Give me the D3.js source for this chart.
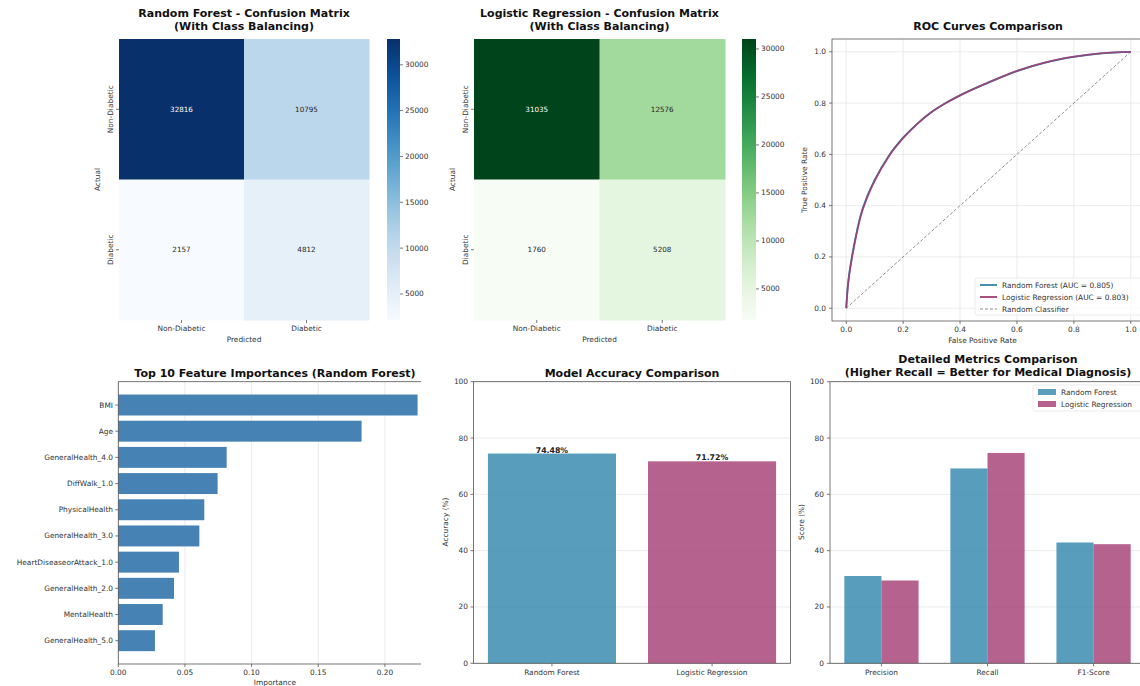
<!DOCTYPE html>
<html>
<head>
<meta charset="utf-8">
<script src="https://cdn.jsdelivr.net/npm/d3@7"></script>
<style>
  body { margin: 0; background: #fff; }
  svg { font-family: "DejaVu Sans", sans-serif; }
</style>
</head>
<body>
<script>
// canvas size
var w = 1140;
var h = 686;

// confusion matrices (rows = actual, cols = predicted)
var classLabels = ["Non-Diabetic", "Diabetic"];
var rfMatrix = [[32816, 10795], [2157, 4812]];
var lrMatrix = [[31035, 12576], [1760, 5208]];
var colorbarTicks = [5000, 10000, 15000, 20000, 25000, 30000];

// ROC curves
var rocFpr = [0, 0.005, 0.01, 0.02, 0.03, 0.05, 0.075, 0.1, 0.15, 0.2, 0.25, 0.3, 0.35, 0.4, 0.5, 0.6, 0.7, 0.8, 0.9, 1.0];
var rfTpr  = [0, 0.08, 0.13, 0.20, 0.26, 0.36, 0.44, 0.50, 0.595, 0.665, 0.72, 0.765, 0.80, 0.83, 0.88, 0.925, 0.958, 0.98, 0.994, 1.0];
var lrTpr  = [0, 0.075, 0.125, 0.195, 0.255, 0.355, 0.435, 0.497, 0.593, 0.663, 0.719, 0.765, 0.80, 0.83, 0.881, 0.926, 0.959, 0.981, 0.995, 1.0];
var rocLabels = ["Random Forest (AUC = 0.805)", "Logistic Regression (AUC = 0.803)", "Random Classifier"];
var rocTicks = [0, 0.2, 0.4, 0.6, 0.8, 1.0];

// feature importances
var featureNames = ["BMI", "Age", "GeneralHealth_4.0", "DiffWalk_1.0", "PhysicalHealth",
  "GeneralHealth_3.0", "HeartDiseaseorAttack_1.0", "GeneralHealth_2.0", "MentalHealth", "GeneralHealth_5.0"];
var featureImportance = [0.2245, 0.1825, 0.0813, 0.0745, 0.0645, 0.0608, 0.0455, 0.0418, 0.0333, 0.0275];
var importanceTicks = [0, 0.05, 0.10, 0.15, 0.20];

// accuracy
var modelNames = ["Random Forest", "Logistic Regression"];
var accuracy = [74.48, 71.72];

// detailed metrics
var metricNames = ["Precision", "Recall", "F1-Score"];
var rfMetrics = [31.0, 69.2, 42.9];
var lrMetrics = [29.4, 74.7, 42.3];
var percentTicks = [0, 20, 40, 60, 80, 100];

var modelColors = ["#2E86AB", "#A23B72"];
var textColor = "#333";
var spineColor = "#555";
var gridColor = "#e6e6e6";

var svg = d3.select("body").append("svg")
  .attr("width", w)
  .attr("height", h);

var defs = svg.append("defs");

// title helper
function title(x, y, lines) {
  var t = svg.append("text")
    .attr("x", x).attr("y", y)
    .attr("text-anchor", "middle")
    .attr("font-size", "11px")
    .attr("font-weight", "bold")
    .attr("fill", "#111");
  lines.forEach(function(l, i) {
    t.append("tspan").attr("x", x).attr("dy", i == 0 ? 0 : 13).text(l);
  });
}

function smallText(g, x, y, s, anchor, size) {
  return g.append("text")
    .attr("x", x).attr("y", y)
    .attr("text-anchor", anchor || "middle")
    .attr("font-size", (size || 7.4) + "px")
    .attr("fill", textColor)
    .text(s);
}

function frame(g, x0, x1, y0, y1) {
  g.append("rect")
    .attr("x", x0).attr("y", y0)
    .attr("width", x1 - x0).attr("height", y1 - y0)
    .attr("fill", "none")
    .attr("stroke", spineColor)
    .attr("stroke-width", 0.8);
}

// ---------- confusion matrix heatmap ----------
function heatmap(matrix, box, cb, interp, titleLines, id) {
  var g = svg.append("g");
  var flat = matrix[0].concat(matrix[1]);
  var color = d3.scaleSequential(interp).domain([d3.min(flat), d3.max(flat)]);
  var xs = d3.scaleBand().domain([0, 1]).range([box.x0, box.x1]);
  var ys = d3.scaleBand().domain([0, 1]).range([box.y0, box.y1]);

  var cells = [];
  matrix.forEach(function(row, r) {
    row.forEach(function(v, c) { cells.push({ r: r, c: c, v: v }); });
  });

  g.selectAll("rect.cell")
    .data(cells)
    .enter()
    .append("rect")
    .attr("x", function(d) { return xs(d.c); })
    .attr("y", function(d) { return ys(d.r); })
    .attr("width", xs.bandwidth() + 0.5)
    .attr("height", ys.bandwidth() + 0.5)
    .attr("fill", function(d) { return color(d.v); });

  g.selectAll("text.val")
    .data(cells)
    .enter()
    .append("text")
    .attr("x", function(d) { return xs(d.c) + xs.bandwidth() / 2; })
    .attr("y", function(d) { return ys(d.r) + ys.bandwidth() / 2 + 2.5; })
    .attr("text-anchor", "middle")
    .attr("font-size", "7.2px")
    .attr("fill", function(d) {
      var t = (d.v - d3.min(flat)) / (d3.max(flat) - d3.min(flat));
      return t > 0.6 ? "#fff" : "#262626";
    })
    .text(function(d) { return d.v; });

  // tick labels
  classLabels.forEach(function(lab, i) {
    var cx = xs(i) + xs.bandwidth() / 2;
    g.append("line").attr("x1", cx).attr("x2", cx).attr("y1", box.y1).attr("y2", box.y1 + 3)
      .attr("stroke", spineColor).attr("stroke-width", 0.8);
    smallText(g, cx, box.y1 + 11, lab);
    var cy = ys(i) + ys.bandwidth() / 2;
    g.append("line").attr("x1", box.x0 - 3).attr("x2", box.x0).attr("y1", cy).attr("y2", cy)
      .attr("stroke", spineColor).attr("stroke-width", 0.8);
    smallText(g, 0, 0, lab)
      .attr("transform", "translate(" + (box.x0 - 6) + "," + cy + ") rotate(-90)");
  });
  smallText(g, (box.x0 + box.x1) / 2, box.y1 + 22, "Predicted");
  smallText(g, 0, 0, "Actual")
    .attr("transform", "translate(" + (box.x0 - 19) + "," + (box.y0 + box.y1) / 2 + ") rotate(-90)");

  // colorbar
  var grad = defs.append("linearGradient").attr("id", id)
    .attr("x1", 0).attr("y1", 1).attr("x2", 0).attr("y2", 0);
  d3.range(0, 1.001, 0.05).forEach(function(t) {
    grad.append("stop").attr("offset", t).attr("stop-color", interp(t));
  });
  g.append("rect")
    .attr("x", cb.x0).attr("y", box.y0)
    .attr("width", cb.x1 - cb.x0).attr("height", box.y1 - box.y0)
    .attr("fill", "url(#" + id + ")");
  var cbScale = d3.scaleLinear().domain(color.domain()).range([box.y1, box.y0]);
  colorbarTicks.forEach(function(t) {
    var y = cbScale(t);
    g.append("line").attr("x1", cb.x1).attr("x2", cb.x1 + 3).attr("y1", y).attr("y2", y)
      .attr("stroke", spineColor).attr("stroke-width", 0.8);
    smallText(g, cb.x1 + 5, y + 2.5, t, "start");
  });

  title((box.x0 + box.x1) / 2, 17, titleLines);
}

heatmap(rfMatrix, { x0: 119, x1: 369, y0: 39, y1: 320 }, { x0: 387, x1: 400 },
  d3.interpolateBlues, ["Random Forest - Confusion Matrix", "(With Class Balancing)"], "gBlues");
heatmap(lrMatrix, { x0: 474, x1: 725, y0: 39, y1: 320 }, { x0: 742, x1: 756 },
  d3.interpolateGreens, ["Logistic Regression - Confusion Matrix", "(With Class Balancing)"], "gGreens");

// ---------- ROC ----------
(function() {
  var g = svg.append("g");
  var x = d3.scaleLinear().domain([-0.05, 1.05]).range([832, 1145]);
  var y = d3.scaleLinear().domain([-0.05, 1.05]).range([321, 39]);

  rocTicks.forEach(function(t) {
    g.append("line").attr("x1", x(t)).attr("x2", x(t)).attr("y1", 39).attr("y2", 321)
      .attr("stroke", gridColor).attr("stroke-width", 0.8);
    g.append("line").attr("x1", 832).attr("x2", 1145).attr("y1", y(t)).attr("y2", y(t))
      .attr("stroke", gridColor).attr("stroke-width", 0.8);
  });

  var line = d3.line()
    .x(function(d) { return x(d[0]); })
    .y(function(d) { return y(d[1]); })
    .curve(d3.curveMonotoneX);

  g.append("path")
    .datum([[0, 0], [1, 1]])
    .attr("d", d3.line().x(function(d) { return x(d[0]); }).y(function(d) { return y(d[1]); }))
    .attr("fill", "none").attr("stroke", "#808080")
    .attr("stroke-width", 0.9).attr("stroke-dasharray", "3,2");

  g.append("path")
    .datum(d3.zip(rocFpr, rfTpr))
    .attr("d", line)
    .attr("fill", "none").attr("stroke", modelColors[0]).attr("stroke-width", 1.8);
  g.append("path")
    .datum(d3.zip(rocFpr, lrTpr))
    .attr("d", line)
    .attr("fill", "none").attr("stroke", modelColors[1]).attr("stroke-width", 1.8)
    .attr("stroke-opacity", 0.85);

  frame(g, 832, 1145, 39, 321);

  rocTicks.forEach(function(t) {
    g.append("line").attr("x1", x(t)).attr("x2", x(t)).attr("y1", 321).attr("y2", 324)
      .attr("stroke", spineColor).attr("stroke-width", 0.8);
    smallText(g, x(t), 332, d3.format(".1f")(t));
    g.append("line").attr("x1", 829).attr("x2", 832).attr("y1", y(t)).attr("y2", y(t))
      .attr("stroke", spineColor).attr("stroke-width", 0.8);
    smallText(g, 826, y(t) + 2.5, d3.format(".1f")(t), "end");
  });
  smallText(g, (832 + 1145) / 2 - 6, 343, "False Positive Rate");
  smallText(g, 0, 0, "True Positive Rate")
    .attr("transform", "translate(807,180) rotate(-90)");

  // legend
  var lg = g.append("g");
  lg.append("rect").attr("x", 975).attr("y", 278).attr("width", 170).attr("height", 37)
    .attr("fill", "#fff").attr("fill-opacity", 0.8).attr("stroke", "#ddd").attr("stroke-width", 0.6).attr("rx", 2);
  var styles = [
    { c: modelColors[0], d: null, wd: 1.8 },
    { c: modelColors[1], d: null, wd: 1.8 },
    { c: "#808080", d: "3,2", wd: 0.9 }
  ];
  rocLabels.forEach(function(lab, i) {
    var ly = 285 + i * 12;
    lg.append("line").attr("x1", 980).attr("x2", 997).attr("y1", ly).attr("y2", ly)
      .attr("stroke", styles[i].c).attr("stroke-width", styles[i].wd)
      .attr("stroke-dasharray", styles[i].d);
    smallText(lg, 1002, ly + 2.5, lab, "start");
  });

  title(988, 30, ["ROC Curves Comparison"]);
})();

// ---------- feature importances ----------
(function() {
  defs.append("clipPath").attr("id", "featClip")
    .append("rect").attr("x", 0).attr("y", 0).attr("width", 421).attr("height", h);
  var g = svg.append("g");
  var plot = g.append("g").attr("clip-path", "url(#featClip)");
  var x = d3.scaleLinear().domain([0, 0.2357]).range([118.3, 432.5]);
  var y = d3.scaleBand().domain(featureNames).range([381.7, 664])
    .paddingInner(0.2).paddingOuter(0.49);

  importanceTicks.forEach(function(t) {
    plot.append("line").attr("x1", x(t)).attr("x2", x(t)).attr("y1", 381.7).attr("y2", 664)
      .attr("stroke", gridColor).attr("stroke-width", 0.8);
  });

  plot.selectAll("rect.bar")
    .data(featureImportance)
    .enter()
    .append("rect")
    .attr("x", x(0))
    .attr("y", function(d, i) { return y(featureNames[i]); })
    .attr("width", function(d) { return x(d) - x(0); })
    .attr("height", y.bandwidth())
    .attr("fill", "steelblue");

  frame(plot, 118.3, 432.5, 381.7, 664);

  featureNames.forEach(function(n) {
    var cy = y(n) + y.bandwidth() / 2;
    g.append("line").attr("x1", 115.3).attr("x2", 118.3).attr("y1", cy).attr("y2", cy)
      .attr("stroke", spineColor).attr("stroke-width", 0.8);
    smallText(g, 113, cy + 2.5, n, "end");
  });
  importanceTicks.forEach(function(t) {
    g.append("line").attr("x1", x(t)).attr("x2", x(t)).attr("y1", 664).attr("y2", 667)
      .attr("stroke", spineColor).attr("stroke-width", 0.8);
    smallText(g, x(t), 675, d3.format(".2f")(t));
  });
  smallText(g, 275, 685, "Importance");

  title(275, 377, ["Top 10 Feature Importances (Random Forest)"]);
})();

// ---------- accuracy ----------
(function() {
  var g = svg.append("g");
  var x = d3.scaleBand().domain(modelNames).range([473.5, 790.5])
    .paddingInner(0.2).paddingOuter(0.09);
  var y = d3.scaleLinear().domain([0, 100]).range([663.3, 381.7]);

  percentTicks.forEach(function(t) {
    g.append("line").attr("x1", 473.5).attr("x2", 790.5).attr("y1", y(t)).attr("y2", y(t))
      .attr("stroke", gridColor).attr("stroke-width", 0.8);
  });

  g.selectAll("rect.bar")
    .data(accuracy)
    .enter()
    .append("rect")
    .attr("x", function(d, i) { return x(modelNames[i]); })
    .attr("y", function(d) { return y(d); })
    .attr("width", x.bandwidth())
    .attr("height", function(d) { return y(0) - y(d); })
    .attr("fill", function(d, i) { return modelColors[i]; })
    .attr("fill-opacity", 0.8);

  g.selectAll("text.val")
    .data(accuracy)
    .enter()
    .append("text")
    .attr("x", function(d, i) { return x(modelNames[i]) + x.bandwidth() / 2; })
    .attr("y", function(d) { return y(d) - 1; })
    .attr("text-anchor", "middle")
    .attr("font-size", "7.8px")
    .attr("font-weight", "bold")
    .attr("fill", "#222")
    .text(function(d) { return d.toFixed(2) + "%"; });

  frame(g, 473.5, 790.5, 381.7, 663.3);

  modelNames.forEach(function(n) {
    var cx = x(n) + x.bandwidth() / 2;
    g.append("line").attr("x1", cx).attr("x2", cx).attr("y1", 663.3).attr("y2", 666.3)
      .attr("stroke", spineColor).attr("stroke-width", 0.8);
    smallText(g, cx, 675, n);
  });
  percentTicks.forEach(function(t) {
    g.append("line").attr("x1", 470.5).attr("x2", 473.5).attr("y1", y(t)).attr("y2", y(t))
      .attr("stroke", spineColor).attr("stroke-width", 0.8);
    smallText(g, 468, y(t) + 2.5, t, "end");
  });
  smallText(g, 0, 0, "Accuracy (%)").attr("transform", "translate(448,522) rotate(-90)");

  title(632, 377, ["Model Accuracy Comparison"]);
})();

// ---------- detailed metrics ----------
(function() {
  var g = svg.append("g");
  var x0 = d3.scaleBand().domain(metricNames).range([830, 1145])
    .paddingInner(0.3).paddingOuter(0.135);
  var x1 = d3.scaleBand().domain([0, 1]).range([0, x0.bandwidth()]);
  var y = d3.scaleLinear().domain([0, 100]).range([663.3, 381.7]);
  var series = [rfMetrics, lrMetrics];

  percentTicks.forEach(function(t) {
    g.append("line").attr("x1", 830).attr("x2", 1145).attr("y1", y(t)).attr("y2", y(t))
      .attr("stroke", gridColor).attr("stroke-width", 0.8);
  });

  series.forEach(function(vals, s) {
    g.selectAll("rect.s" + s)
      .data(vals)
      .enter()
      .append("rect")
      .attr("x", function(d, i) { return x0(metricNames[i]) + x1(s); })
      .attr("y", function(d) { return y(d); })
      .attr("width", x1.bandwidth())
      .attr("height", function(d) { return y(0) - y(d); })
      .attr("fill", modelColors[s])
      .attr("fill-opacity", 0.8);
  });

  frame(g, 830, 1145, 381.7, 663.3);

  metricNames.forEach(function(n) {
    var cx = x0(n) + x0.bandwidth() / 2;
    g.append("line").attr("x1", cx).attr("x2", cx).attr("y1", 663.3).attr("y2", 666.3)
      .attr("stroke", spineColor).attr("stroke-width", 0.8);
    smallText(g, cx, 675, n);
  });
  percentTicks.forEach(function(t) {
    g.append("line").attr("x1", 827).attr("x2", 830).attr("y1", y(t)).attr("y2", y(t))
      .attr("stroke", spineColor).attr("stroke-width", 0.8);
    smallText(g, 824, y(t) + 2.5, t, "end");
  });
  smallText(g, 0, 0, "Score (%)").attr("transform", "translate(804,522) rotate(-90)");

  // legend
  var lg = g.append("g");
  lg.append("rect").attr("x", 1033).attr("y", 385).attr("width", 112).attr("height", 26)
    .attr("fill", "#fff").attr("fill-opacity", 0.8).attr("stroke", "#ddd").attr("stroke-width", 0.6).attr("rx", 2);
  modelNames.forEach(function(n, i) {
    var ly = 392 + i * 12;
    lg.append("rect").attr("x", 1038).attr("y", ly - 3).attr("width", 18).attr("height", 6)
      .attr("fill", modelColors[i]).attr("fill-opacity", 0.8);
    smallText(lg, 1061, ly + 2.5, n, "start");
  });

  title(988, 363, ["Detailed Metrics Comparison", "(Higher Recall = Better for Medical Diagnosis)"]);
})();
</script>
</body>
</html>
